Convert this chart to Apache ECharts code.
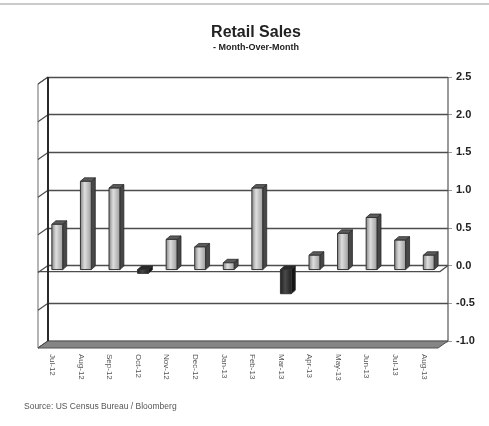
<!DOCTYPE html>
<html>
<head>
<meta charset="utf-8">
<script src="https://cdn.jsdelivr.net/npm/echarts@6/dist/echarts.min.js"></script>
<style>
  html, body { margin: 0; padding: 0; background: #fff; }
  #chart { width: 489px; height: 426px; }
</style>
</head>
<body>
<div id="chart"></div>
<script>
// Retail sales, month-over-month % change
const months = ['Jul-12', 'Aug-12', 'Sep-12', 'Oct-12', 'Nov-12', 'Dec-12', 'Jan-13',
                'Feb-13', 'Mar-13', 'Apr-13', 'May-13', 'Jun-13', 'Jul-13', 'Aug-13'];
const momChange = [0.6, 1.17, 1.08, -0.05, 0.4, 0.3, 0.09, 1.08, -0.32, 0.19, 0.48, 0.69, 0.39, 0.19];
const yMin = -1.0;
const yMax = 2.5;
const yStep = 0.5;

const FONT = '"Liberation Sans", Arial, sans-serif';
// depth of the 3D box (front edge is shifted left/down from the back wall)
const WALL_DX = -10, WALL_DY = 7;

const chart = echarts.init(document.getElementById('chart'), null, { renderer: 'canvas' });

function yTickValues() {
  const out = [];
  for (let v = yMin; v <= yMax + 1e-9; v += yStep) out.push(+v.toFixed(2));
  return out;
}

// walls, floor slab and zero plane of the 3D frame
function renderFrame(params, api) {
  const cs = params.coordSys;
  const xL = cs.x, xR = cs.x + cs.width;
  const yT = cs.y, yB = cs.y + cs.height;
  const line = '#4d4d4d';
  const children = [];
  // left wall
  children.push({
    type: 'polygon',
    shape: { points: [[xL, yT], [xL, yB], [xL + WALL_DX, yB + WALL_DY], [xL + WALL_DX, yT + WALL_DY]] },
    style: { fill: '#ffffff', stroke: '#6a6a6a', lineWidth: 1 }
  });
  // diagonal ticks on the left wall
  yTickValues().forEach(v => {
    const p = api.coord([0, v]);
    children.push({
      type: 'line',
      shape: { x1: xL, y1: p[1], x2: xL + WALL_DX, y2: p[1] + WALL_DY },
      style: { stroke: line, lineWidth: 1.2 }
    });
  });
  // floor slab at the axis minimum
  children.push({
    type: 'polygon',
    shape: { points: [[xL, yB], [xR, yB], [xR + WALL_DX, yB + WALL_DY], [xL + WALL_DX, yB + WALL_DY]] },
    style: { fill: '#858585', stroke: '#505050', lineWidth: 1 }
  });
  // zero plane edges
  const z = api.coord([0, 0])[1];
  children.push({
    type: 'polyline',
    shape: { points: [[xL + WALL_DX, z + WALL_DY - 1], [xR + WALL_DX + 2, z + WALL_DY - 1], [xR, z]] },
    style: { stroke: line, lineWidth: 1.3, fill: null }
  });
  // back wall edges
  children.push({
    type: 'line',
    shape: { x1: xL, y1: yT, x2: xL, y2: yB },
    style: { stroke: '#2a2a2a', lineWidth: 2 }
  });
  children.push({
    type: 'line',
    shape: { x1: xR, y1: yT, x2: xR, y2: yB },
    style: { stroke: '#555', lineWidth: 1.2 }
  });
  return { type: 'group', children };
}

// one 3D box per month
function renderBar(params, api) {
  const i = api.value(0);
  const v = api.value(1);
  const pv = api.coord([i, v]);
  const p0 = api.coord([i, 0]);
  const bw = api.size([1, 0])[0] * 0.38;
  const dx = -5, dy = 4, depth = 4, rise = 3.5;
  const cx = pv[0] + dx;
  const x0 = cx - bw / 2, x1 = cx + bw / 2;
  const yTop = Math.min(pv[1], p0[1]) + dy;
  const yBot = Math.max(pv[1], p0[1]) + dy;
  const neg = v < 0;
  const face = neg
    ? new echarts.graphic.LinearGradient(0, 0, 1, 0, [
        { offset: 0, color: '#1e1e1e' }, { offset: 0.45, color: '#4a4a4a' }, { offset: 1, color: '#1e1e1e' }])
    : new echarts.graphic.LinearGradient(0, 0, 1, 0, [
        { offset: 0, color: '#7e7e7e' }, { offset: 0.4, color: '#dedede' }, { offset: 1, color: '#9a9a9a' }]);
  return {
    type: 'group',
    children: [
      {
        type: 'polygon',
        shape: { points: [[x1, yTop], [x1 + depth, yTop - rise], [x1 + depth, yBot - rise], [x1, yBot]] },
        style: { fill: neg ? '#151515' : '#474747', stroke: '#2a2a2a', lineWidth: 0.8 }
      },
      {
        type: 'polygon',
        shape: { points: [[x0, yTop], [x0 + depth, yTop - rise], [x1 + depth, yTop - rise], [x1, yTop]] },
        style: { fill: neg ? '#2a2a2a' : '#5c5c5c', stroke: '#2a2a2a', lineWidth: 0.8 }
      },
      {
        type: 'rect',
        shape: { x: x0, y: yTop, width: bw, height: yBot - yTop },
        style: { fill: face, stroke: '#333', lineWidth: 1 }
      }
    ]
  };
}

const option = {
  backgroundColor: '#ffffff',
  animation: false,
  title: {
    text: 'Retail Sales',
    subtext: '- Month-Over-Month',
    left: 251,
    textAlign: 'center',
    top: 20,
    itemGap: 2,
    textStyle: { fontFamily: FONT, fontWeight: 'bold', fontSize: 16, color: '#222' },
    subtextStyle: { fontFamily: FONT, fontWeight: 'bold', fontSize: 9, color: '#222' }
  },
  graphic: [
    {
      type: 'line', shape: { x1: 0, y1: 4, x2: 489, y2: 4 },
      style: { stroke: '#b8b8b8', lineWidth: 1.5 }
    },
    {
      type: 'text', left: 24, top: 402,
      style: { text: 'Source: US Census Bureau / Bloomberg', font: '8.5px ' + FONT, fill: '#555' }
    }
  ],
  grid: [
    { left: 48, right: 41, top: 77, bottom: 85 },
    { left: 48 + WALL_DX, right: 41 - WALL_DX, top: 77 + WALL_DY, bottom: 85 - WALL_DY }
  ],
  xAxis: [
    {
      type: 'category', gridIndex: 0, data: months,
      axisLine: { show: false }, axisTick: { show: false }, axisLabel: { show: false }
    },
    {
      type: 'category', gridIndex: 1, data: months,
      axisLine: { show: false }, axisTick: { show: false },
      axisLabel: {
        rotate: -90, margin: 6, interval: 0,
        fontFamily: FONT, fontSize: 8, color: '#555'
      }
    }
  ],
  yAxis: [
    {
      type: 'value', gridIndex: 0, position: 'right',
      min: yMin, max: yMax, interval: yStep,
      axisLine: { show: false },
      axisTick: { show: true, length: 4, lineStyle: { color: '#999' } },
      axisLabel: {
        margin: 8, fontFamily: FONT, fontWeight: 'bold', fontSize: 11, color: '#222',
        formatter: v => v.toFixed(1)
      },
      splitLine: { show: true, lineStyle: { color: '#4d4d4d', width: 1.3 } }
    },
    {
      type: 'value', gridIndex: 1, min: yMin, max: yMax, interval: yStep, show: false
    }
  ],
  series: [
    {
      type: 'custom', name: 'frame', xAxisIndex: 0, yAxisIndex: 0,
      data: [[0, 0]], renderItem: renderFrame, z: 1, silent: true
    },
    {
      type: 'custom', name: 'Retail Sales MoM', xAxisIndex: 0, yAxisIndex: 0,
      data: momChange.map((v, i) => [i, v]), renderItem: renderBar, z: 3
    }
  ]
};

chart.setOption(option);
</script>
</body>
</html>
